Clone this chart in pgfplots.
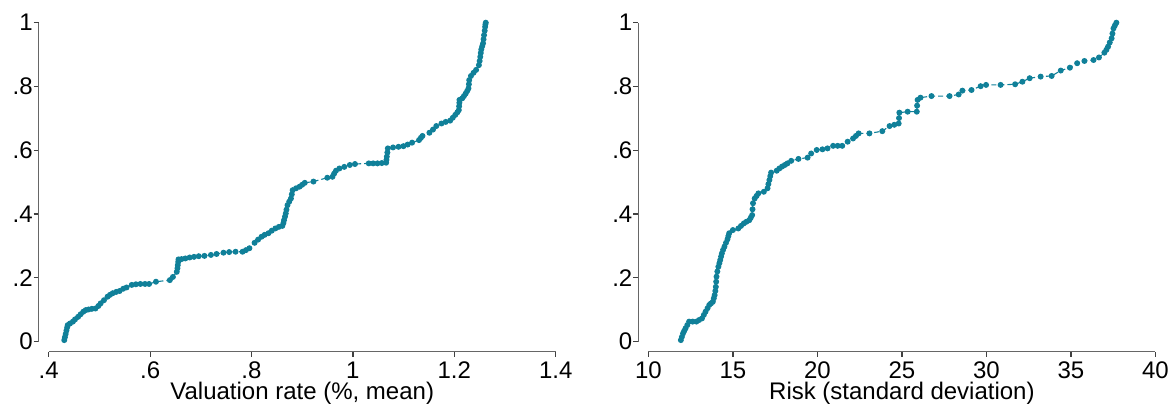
\documentclass[border=0pt]{standalone}
\usepackage{fontspec}
\setmainfont{Liberation Sans}
\usepackage{pgfplots}
\usepackage{pgfplotstable}
\pgfplotsset{compat=1.18}
\definecolor{stteal}{RGB}{16,128,153}

\pgfplotstableread{
x y
0.4307 0.005
0.4320 0.014
0.4335 0.024
0.4350 0.035
0.4365 0.045
0.4375 0.052
0.4420 0.057
0.4478 0.063
0.4520 0.070
0.4580 0.078
0.4630 0.086
0.4683 0.094
0.4730 0.099
0.4785 0.101
0.4850 0.103
0.4922 0.104
0.4980 0.112
0.5024 0.120
0.5090 0.130
0.5160 0.141
0.5210 0.147
0.5263 0.152
0.5330 0.156
0.5399 0.159
0.5470 0.166
0.5536 0.170
0.5638 0.178
0.5720 0.180
0.5809 0.181
0.5900 0.181
0.5980 0.181
0.6116 0.188
0.6389 0.193
0.6450 0.203
0.6526 0.219
0.6540 0.230
0.6546 0.240
0.6555 0.250
0.6560 0.258
0.6620 0.259
0.6696 0.261
0.6780 0.264
0.6867 0.266
0.6960 0.268
0.7072 0.269
0.7200 0.272
0.7311 0.275
0.7447 0.279
0.7560 0.281
0.7686 0.282
0.7823 0.282
0.7890 0.287
0.7959 0.293
0.8061 0.310
0.8130 0.320
0.8198 0.329
0.8260 0.335
0.8334 0.340
0.8400 0.348
0.8471 0.355
0.8540 0.360
0.8608 0.363
0.8630 0.372
0.8642 0.381
0.8660 0.392
0.8676 0.402
0.8690 0.414
0.8710 0.428
0.8744 0.439
0.8778 0.449
0.8795 0.462
0.8812 0.475
0.8880 0.481
0.8949 0.486
0.9000 0.492
0.9051 0.498
0.9222 0.502
0.9495 0.514
0.9597 0.517
0.9630 0.527
0.9666 0.536
0.9734 0.543
0.9830 0.548
0.9939 0.554
1.0041 0.557
1.0314 0.559
1.0400 0.559
1.0485 0.559
1.0570 0.560
1.0655 0.561
1.0662 0.570
1.0669 0.580
1.0680 0.593
1.0689 0.606
1.0792 0.609
1.0900 0.611
1.0997 0.613
1.1080 0.618
1.1167 0.624
1.1304 0.632
1.1340 0.639
1.1372 0.645
1.1509 0.655
1.1580 0.665
1.1645 0.676
1.1747 0.684
1.1830 0.689
1.1918 0.693
1.1970 0.702
1.2020 0.711
1.2060 0.719
1.2089 0.726
1.2095 0.738
1.2100 0.749
1.2102 0.758
1.2157 0.763
1.2190 0.770
1.2225 0.778
1.2255 0.786
1.2280 0.794
1.2288 0.807
1.2294 0.820
1.2328 0.833
1.2380 0.843
1.2430 0.852
1.2485 0.867
1.2500 0.880
1.2512 0.893
1.2522 0.905
1.2532 0.916
1.2550 0.926
1.2567 0.935
1.2577 0.948
1.2587 0.961
1.2600 0.975
1.2608 0.987
1.2614 0.995
1.2621 1.000
}\valdata

\pgfplotstableread{
x y
11.92 0.005
11.98 0.015
12.05 0.026
12.12 0.034
12.20 0.042
12.30 0.052
12.41 0.063
12.62 0.063
12.84 0.063
13.00 0.068
13.17 0.073
13.28 0.084
13.38 0.094
13.50 0.105
13.60 0.115
13.70 0.120
13.81 0.125
13.87 0.136
13.92 0.146
13.96 0.159
13.99 0.172
14.01 0.188
14.03 0.204
14.08 0.220
14.14 0.235
14.20 0.246
14.25 0.256
14.30 0.267
14.35 0.277
14.42 0.288
14.50 0.298
14.59 0.310
14.68 0.321
14.73 0.331
14.78 0.340
15.00 0.350
15.32 0.355
15.48 0.363
15.65 0.371
15.80 0.376
15.97 0.381
16.06 0.389
16.14 0.397
16.16 0.415
16.19 0.434
16.29 0.449
16.40 0.457
16.51 0.465
16.83 0.470
17.05 0.481
17.10 0.494
17.16 0.507
17.21 0.519
17.26 0.530
17.59 0.536
17.75 0.543
17.91 0.549
18.07 0.554
18.23 0.559
18.45 0.567
18.88 0.573
19.42 0.577
19.63 0.590
19.96 0.601
20.30 0.603
20.60 0.606
20.93 0.614
21.20 0.614
21.47 0.614
21.79 0.627
22.11 0.637
22.28 0.645
22.44 0.653
23.08 0.653
23.84 0.660
24.27 0.676
24.55 0.680
24.81 0.684
24.83 0.701
24.85 0.718
25.34 0.721
25.88 0.721
25.90 0.740
25.93 0.758
26.10 0.765
26.75 0.770
27.82 0.770
28.36 0.775
28.58 0.787
29.12 0.789
29.66 0.801
29.98 0.805
30.84 0.805
31.70 0.807
32.13 0.815
32.56 0.826
33.21 0.831
33.86 0.833
34.40 0.850
34.94 0.859
35.37 0.873
35.80 0.880
36.34 0.883
36.66 0.891
36.98 0.906
37.10 0.915
37.20 0.925
37.30 0.938
37.41 0.951
37.46 0.966
37.52 0.982
37.60 0.991
37.69 1.000
}\riskdata

\pgfplotsset{
  statastyle/.style={
    scale only axis, width=253.5pt, height=159.5pt,
    axis x line=bottom, axis y line=left,
    axis line style={-, draw=black!60, line width=0.6pt},
    axis x line shift=5pt, axis y line shift=5pt,
    tick align=outside, major tick length=2.5pt,
    tick style={black!75, line width=0.6pt},
    ymin=0, ymax=1, ytick={0,0.2,0.4,0.6,0.8,1}, yticklabels={0,.2,.4,.6,.8,1},
    ticklabel style={font=\fontsize{12}{14}\selectfont, text=black},
    yticklabel style={xshift=3pt},
    xticklabel style={yshift=1pt},
    label style={font=\fontsize{12}{14}\selectfont, text=black},
    xlabel style={at={(axis description cs:0.5,0)}, anchor=base, yshift=-29pt},
    clip=false,
    /pgf/number format/assume math mode=true,
  },
  curvestyle/.style={color=stteal, line width=0.55pt, dash pattern=on 2.5pt off 1.5pt,
    mark=*, mark size=1.2pt, mark options={solid, fill=stteal, draw=none}},
}

\begin{document}
\begin{tikzpicture}
\path[use as bounding box] (0,0) rectangle (584pt,203.5pt);
\begin{axis}[statastyle, at={(24.35pt,32.65pt)}, anchor=south west,
  xmin=0.4, xmax=1.4, xtick={0.4,0.6,0.8,1,1.2,1.4}, xticklabels={.4,.6,.8,1,1.2,1.4},
  xlabel={Valuation rate (\%, mean)}]
\addplot[curvestyle] table[x=x,y=y] {\valdata};
\end{axis}
\begin{axis}[statastyle, at={(324.2pt,32.65pt)}, anchor=south west,
  xmin=10, xmax=40, xtick={10,15,20,25,30,35,40},
  xlabel={Risk (standard deviation)}]
\addplot[curvestyle] table[x=x,y=y] {\riskdata};
\end{axis}
\end{tikzpicture}
\end{document}
